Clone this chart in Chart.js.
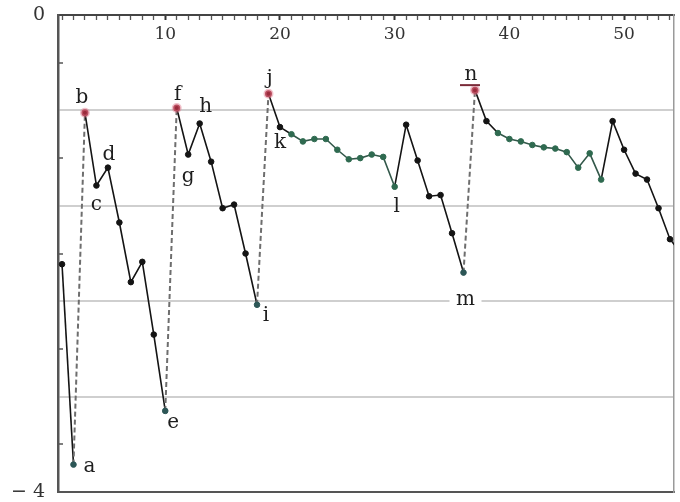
<!DOCTYPE html>
<html>
<head>
<meta charset="utf-8">
<script src="https://cdn.jsdelivr.net/npm/chart.js@4.4.0/dist/chart.umd.min.js"></script>
<style>
html,body{margin:0;padding:0;background:#fff;}
#wrap{width:680px;height:502px;}
</style>
</head>
<body>
<div id="wrap"><canvas id="c" width="680" height="502"></canvas></div>
<script>
// ---- data ----
const xValues = [1,2,3,4,5,6,7,8,9,10,11,12,13,14,15,16,17,18,19,20,21,22,23,24,25,26,27,28,29,30,31,32,33,34,35,36,37,38,39,40,41,42,43,44,45,46,47,48,49,50,51,52,53,54,55];
const yValues = [-2.09,-3.77,-0.82,-1.43,-1.28,-1.74,-2.24,-2.07,-2.68,-3.32,
                 -0.78,-1.17,-0.91,-1.23,-1.62,-1.59,-2.00,-2.43,-0.66,-0.94,
                 -1.00,-1.06,-1.04,-1.04,-1.13,-1.21,-1.20,-1.17,-1.19,-1.44,
                 -0.92,-1.22,-1.52,-1.51,-1.83,-2.16,-0.63,-0.89,-0.99,-1.04,
                 -1.06,-1.09,-1.11,-1.12,-1.15,-1.28,-1.16,-1.38,-0.89,-1.13,
                 -1.33,-1.38,-1.62,-1.88,-2.00];
const xMinorTicks = [1,2,3,4,5,6,7,8,9,10,11,12,13,14,15,16,17,18,19,20,21,22,23,24,25,26,27,28,29,30,31,32,33,34,35,36,37,38,39,40,41,42,43,44,45,46,47,48,49,50,51,52,53,54];
const xTickLabels = [10,20,30,40,50];
const yTickValues = [0,-0.4,-0.8,-1.2,-1.6,-2.0,-2.4,-2.8,-3.2,-3.6,-4];
const yGridValues = [-0.8,-1.6,-2.4,-3.2];
const yMinorTickValues = [-0.4,-1.2,-2.0,-2.8,-3.6];
const yTickLabels = {"0":"0","-4":"− 4"};
const jumpFrom = [2,10,18,36];        // element number where dashed jump starts
const peakPoints = [3,11,19,37];
const troughPoints = [2,10,18,36];
const greenPoints = [21,22,23,24,25,26,27,28,29,30,39,40,41,42,43,44,45,46,47,48];
const labelAt = [2,3,4,5,10,11,12,13,18,19,20,30,36,37];
const labelText = ['a','b','c','d','e','f','g','h','i','j','k','l','m','n'];

// ---- styles ----
const labelOffset = {
  a:[16,2], b:[-3,-15], c:[0,19], d:[1,-13], e:[8,12], f:[1,-13], g:[0,22],
  h:[6,-17], i:[9,11], j:[1,-15], k:[0,16], l:[2,20], m:[2,27], n:[-4,-15]
};
const near = (a,b)=>Math.abs(a-b)<1e-6;
const inList = (list,v)=>list.some(t=>near(t,v));
const noPad = s=>{s.paddingTop=0;s.paddingBottom=0;s.paddingLeft=0;s.paddingRight=0;};

const labelPlugin = {
  id:'pointLetters',
  afterDatasetsDraw(chart){
    const ctx = chart.ctx;
    const meta = chart.getDatasetMeta(0);
    ctx.save();
    ctx.font = '20px "DejaVu Serif"';
    ctx.textAlign = 'center';
    ctx.textBaseline = 'middle';
    labelAt.forEach((num,i)=>{
      const el = meta.data[num-1];
      const t = labelText[i];
      const [dx,dy] = labelOffset[t];
      const x = el.x+dx, y = el.y+dy;
      if (t==='m'){
        ctx.fillStyle='#fff';
        ctx.fillRect(x-16,y-11,32,22);
      }
      ctx.fillStyle='#1e1e1e';
      ctx.fillText(t,x,y);
      if (t==='n'){
        ctx.strokeStyle='#7a2a38';
        ctx.lineWidth=2;
        ctx.beginPath();ctx.moveTo(x-11,y+10);ctx.lineTo(x+9,y+10);ctx.stroke();
      }
    });
    ctx.restore();
  }
};

const pointFill = c=>{
  const n = c.dataIndex+1;
  if (peakPoints.includes(n)) return '#9b2b3c';
  if (troughPoints.includes(n)) return '#2c5656';
  if (greenPoints.includes(n)) return '#2f6a50';
  return '#141414';
};
const pointEdge = c=>{
  const n = c.dataIndex+1;
  if (peakPoints.includes(n)) return 'rgba(225,120,140,0.45)';
  return pointFill(c);
};

new Chart(document.getElementById('c'),{
  type:'line',
  data:{datasets:[{
    data:xValues.map((x,i)=>({x:x,y:yValues[i]})),
    borderColor:'#141414',
    borderWidth:1.6,
    tension:0,
    pointRadius:c=>peakPoints.includes(c.dataIndex+1)?3.5:2.8,
    pointBackgroundColor:pointFill,
    pointBorderColor:pointEdge,
    pointBorderWidth:c=>peakPoints.includes(c.dataIndex+1)?3:1,
    segment:{
      borderDash:c=>jumpFrom.includes(c.p0DataIndex+1)?[5,3]:undefined,
      borderColor:c=>{
        const a=c.p0DataIndex+1,b=c.p1DataIndex+1;
        if (jumpFrom.includes(a)) return '#6e6e6e';
        if (greenPoints.includes(a)&&greenPoints.includes(b)) return '#33584a';
        return '#141414';
      },
      borderWidth:c=>jumpFrom.includes(c.p0DataIndex+1)?2:1.6
    }
  }]},
  options:{
    responsive:false,
    animation:false,
    devicePixelRatio:1,
    layout:{padding:{left:0,top:0,right:6,bottom:10}},
    plugins:{legend:{display:false},tooltip:{enabled:false}},
    scales:{
      x:{
        type:'linear',position:'top',min:0.65,max:54.35,
        afterBuildTicks:s=>{s.ticks=xMinorTicks.map(v=>({value:v}));},
        afterFit:s=>{s.height=15;noPad(s);},
        ticks:{
          mirror:true,padding:9,autoSkip:false,maxRotation:0,
          callback:v=>xTickLabels.includes(v)?String(v):'',
          font:{family:'DejaVu Serif',size:17},color:'#333'
        },
        grid:{
          drawOnChartArea:false,tickLength:-5,
          tickColor:c=>(c.tick&&c.tick.value%10===0)?'#333':'#555',
          tickWidth:c=>(c.tick&&c.tick.value%10===0)?2:1.3
        },
        border:{color:'#444',width:2}
      },
      y:{
        type:'linear',position:'left',min:-4,max:0,
        afterBuildTicks:s=>{s.ticks=yTickValues.map(v=>({value:v}));},
        afterFit:s=>{s.width=58;noPad(s);},
        ticks:{
          padding:18,autoSkip:false,
          callback:v=>{const k=String(Math.round(v*10)/10);return yTickLabels[k]!==undefined?yTickLabels[k]:'';},
          font:{family:'DejaVu Serif',size:19},color:'#333'
        },
        grid:{
          color:c=>(c.tick&&inList(yGridValues,c.tick.value))?'#cfcfcf':'rgba(0,0,0,0)',
          lineWidth:2,
          tickLength:-5,
          tickColor:c=>(c.tick&&inList(yMinorTickValues,c.tick.value))?'#555':'rgba(0,0,0,0)',
          tickWidth:1.5
        },
        border:{color:'#555',width:2.5}
      },
      xb:{
        type:'linear',position:'bottom',min:0,max:1,
        afterFit:s=>{s.height=0;noPad(s);},
        ticks:{display:false},
        grid:{display:false,drawTicks:false},
        border:{display:true,color:'#555',width:2}
      },
      yr:{
        type:'linear',position:'right',min:0,max:1,
        afterFit:s=>{s.width=0;noPad(s);},
        ticks:{display:false},
        grid:{display:false,drawTicks:false},
        border:{display:true,color:'#9a9a9a',width:1.5}
      }
    }
  },
  plugins:[labelPlugin]
});
</script>
</body>
</html>
